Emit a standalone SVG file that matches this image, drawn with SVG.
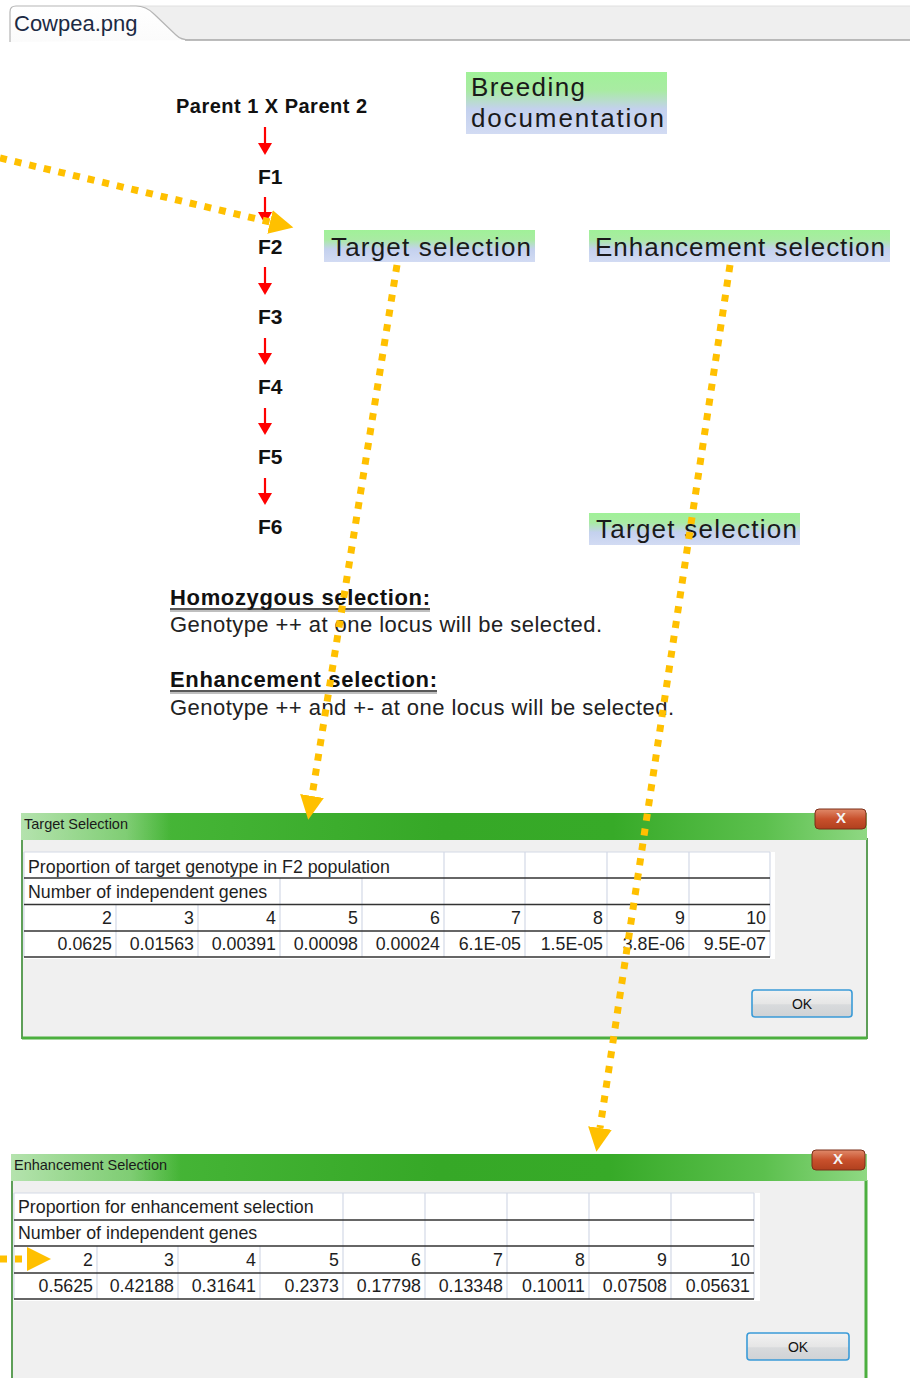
<svg xmlns="http://www.w3.org/2000/svg" width="910" height="1378" viewBox="0 0 910 1378">
<defs>
<style>
.bold{font-family:"Liberation Sans",Arial,sans-serif;font-weight:bold;fill:#111}
.fgen{font-family:"Liberation Sans",Arial,sans-serif;font-weight:bold;font-size:21px;fill:#111}
.lbl{font-family:"Liberation Sans",Arial,sans-serif;font-size:26px;fill:#1a1a1a}
.note{font-family:"Liberation Sans",Arial,sans-serif;font-size:22px;fill:#222}
.title{font-family:"Liberation Sans",Arial,sans-serif;font-size:14.5px;fill:#1a1a1a}
.cell{font-family:"Liberation Sans",Arial,sans-serif;font-size:17.8px;fill:#1e1e1e}
.num{font-family:"Liberation Sans",Arial,sans-serif;font-size:17.8px;fill:#1e1e1e;text-anchor:end}
.ok{font-family:"Liberation Sans",Arial,sans-serif;font-size:14px;fill:#111;text-anchor:middle}
.vl{stroke:#d3d9e6;stroke-width:1.2}
.hl{stroke:#333;stroke-width:1.5}
.red{stroke:#ff0000;stroke-width:2.2;fill:none}
.dot{stroke:#ffc000;stroke-width:7;stroke-dasharray:7 8;fill:none}
.box{fill:url(#lblGrad)}
</style>
<linearGradient id="lblGrad" x1="0" y1="0" x2="0" y2="1">
<stop offset="0" stop-color="#a0f198"/>
<stop offset="0.3" stop-color="#a9eba3"/>
<stop offset="0.6" stop-color="#c4d1ee"/>
<stop offset="1" stop-color="#d2dbf3"/>
</linearGradient>
<linearGradient id="titleGrad" x1="0" y1="0" x2="1" y2="0">
<stop offset="0" stop-color="#62c455"/>
<stop offset="0.12" stop-color="#48b739"/>
<stop offset="0.5" stop-color="#36a827"/>
<stop offset="0.7" stop-color="#37aa28"/>
<stop offset="0.88" stop-color="#5cc04e"/>
<stop offset="1" stop-color="#8fd883"/>
</linearGradient>
<linearGradient id="glowGrad" x1="0" y1="0" x2="1" y2="0">
<stop offset="0" stop-color="#d8f0d4" stop-opacity="0.7"/>
<stop offset="0.7" stop-color="#b8e4b0" stop-opacity="0.5"/>
<stop offset="1" stop-color="#b8e4b0" stop-opacity="0"/>
</linearGradient>
<linearGradient id="closeGrad" x1="0" y1="0" x2="0" y2="1">
<stop offset="0" stop-color="#e08a6a"/>
<stop offset="0.5" stop-color="#c8502c"/>
<stop offset="1" stop-color="#b0401e"/>
</linearGradient>
<linearGradient id="btnGrad" x1="0" y1="0" x2="0" y2="1">
<stop offset="0" stop-color="#f2f2f2"/>
<stop offset="0.5" stop-color="#e6e6e6"/>
<stop offset="0.55" stop-color="#d8dadc"/>
<stop offset="1" stop-color="#cfd2d5"/>
</linearGradient>
<linearGradient id="tabGrad" x1="0" y1="0" x2="0" y2="1">
<stop offset="0" stop-color="#ffffff"/>
<stop offset="1" stop-color="#fbfbfb"/>
</linearGradient>
<marker id="redHead" markerUnits="userSpaceOnUse" markerWidth="14" markerHeight="14" refX="0" refY="7" orient="auto">
<path d="M0,0 L12,7 L0,14 z" fill="#ff0000"/>
</marker>
<marker id="orHead" markerUnits="userSpaceOnUse" markerWidth="26" markerHeight="26" refX="0" refY="12" orient="auto">
<path d="M0,0 L24,12 L0,24 z" fill="#ffc000"/>
</marker>
</defs>

<rect x="0" y="0" width="910" height="1378" fill="#ffffff"/>

<g id="tabbar">
<rect x="130" y="6" width="780" height="34" fill="#efefef"/>
<path d="M130,6 L910,6" stroke="#e0e0e0" stroke-width="1"/>
<path d="M185,40 L910,40" stroke="#a6a6a6" stroke-width="1.5"/>
<path d="M10,42 L10,12 Q10,6 16,6 L136,6 Q146,6 154,14 L176,35 Q181,40 190,40" fill="url(#tabGrad)" stroke="#b5b5b5" stroke-width="1.2"/>
<text x="14" y="31" font-family="'Liberation Sans',Arial,sans-serif" font-size="22" fill="#1c2a44">Cowpea.png</text>
</g>

<g id="parents"><text class="bold" x="176" y="113" font-size="20" textLength="191">Parent 1 X Parent 2</text></g>
<g id="F1"><text class="fgen" x="258" y="184">F1</text></g>
<g id="F2"><text class="fgen" x="258" y="254">F2</text></g>
<g id="F3"><text class="fgen" x="258" y="324">F3</text></g>
<g id="F4"><text class="fgen" x="258" y="394">F4</text></g>
<g id="F5"><text class="fgen" x="258" y="464">F5</text></g>
<g id="F6"><text class="fgen" x="258" y="534">F6</text></g>

<g id="breeding-documentation">
<rect class="box" x="466" y="72" width="201" height="62"/>
<text class="lbl" x="471" y="96" textLength="114">Breeding</text>
<text class="lbl" x="471" y="127" textLength="193">documentation</text>
</g>
<g id="target-selection-top">
<rect class="box" x="324" y="230" width="211" height="32"/>
<text class="lbl" x="331" y="256" textLength="200">Target selection</text>
</g>
<g id="enhancement-selection">
<rect class="box" x="589" y="230" width="301" height="32"/>
<text class="lbl" x="595" y="256" textLength="290">Enhancement selection</text>
</g>
<g id="target-selection-bottom">
<rect class="box" x="589" y="513" width="211" height="32"/>
<text class="lbl" x="596" y="538" textLength="201">Target selection</text>
</g>

<g id="notes">
<text class="bold" x="170" y="605" font-size="22" fill="#222" textLength="260">Homozygous selection:</text>
<line x1="170" y1="609" x2="430" y2="609" stroke="#222" stroke-width="1.6"/>
<line x1="170" y1="611" x2="430" y2="611" stroke="#aaa" stroke-width="1.4"/>
<text class="note" x="170" y="632" textLength="432">Genotype ++ at one locus will be selected.</text>
<text class="bold" x="170" y="687" font-size="22" fill="#222" textLength="267">Enhancement selection:</text>
<line x1="170" y1="691" x2="437" y2="691" stroke="#222" stroke-width="1.6"/>
<line x1="170" y1="693" x2="437" y2="693" stroke="#aaa" stroke-width="1.4"/>
<text class="note" x="170" y="715" textLength="504">Genotype ++ and +- at one locus will be selected.</text>
</g>

<g id="dialog-target-selection">
<rect x="22" y="839" width="845" height="199" fill="#f0f0f0" stroke="#5e9f58" stroke-width="2"/>
<line x1="22" y1="1038" x2="867" y2="1038" stroke="#4caf3f" stroke-width="3"/>
<rect x="21" y="813" width="846" height="27" fill="url(#titleGrad)"/>
<rect x="21" y="813" width="150" height="27" fill="url(#glowGrad)"/>
<rect x="815" y="809" width="51" height="20" rx="4" fill="url(#closeGrad)" stroke="#7a2e18" stroke-width="1"/>
<text x="841" y="823" font-family="'Liberation Sans',Arial,sans-serif" font-size="15" font-weight="bold" fill="#f4f4f4" text-anchor="middle">X</text>
<text class="title" x="24" y="829">Target Selection</text>
<rect x="24" y="852" width="751" height="107" fill="#ffffff"/>
<line class="vl" x1="24" y1="852" x2="770" y2="852"/>
<line class="vl" x1="24" y1="852" x2="24" y2="957"/>
<g>
<line class="vl" x1="444" y1="852" x2="444" y2="878"/><line class="vl" x1="525" y1="852" x2="525" y2="878"/><line class="vl" x1="607" y1="852" x2="607" y2="878"/><line class="vl" x1="689" y1="852" x2="689" y2="878"/><line class="vl" x1="770" y1="852" x2="770" y2="878"/>
<line class="vl" x1="280" y1="878" x2="280" y2="904"/><line class="vl" x1="362" y1="878" x2="362" y2="904"/><line class="vl" x1="444" y1="878" x2="444" y2="904"/><line class="vl" x1="525" y1="878" x2="525" y2="904"/><line class="vl" x1="607" y1="878" x2="607" y2="904"/><line class="vl" x1="689" y1="878" x2="689" y2="904"/><line class="vl" x1="770" y1="878" x2="770" y2="904"/>
<line class="vl" x1="116" y1="904" x2="116" y2="957"/><line class="vl" x1="198" y1="904" x2="198" y2="957"/><line class="vl" x1="280" y1="904" x2="280" y2="957"/><line class="vl" x1="362" y1="904" x2="362" y2="957"/><line class="vl" x1="444" y1="904" x2="444" y2="957"/><line class="vl" x1="525" y1="904" x2="525" y2="957"/><line class="vl" x1="607" y1="904" x2="607" y2="957"/><line class="vl" x1="689" y1="904" x2="689" y2="957"/><line class="vl" x1="770" y1="904" x2="770" y2="957"/>
</g>
<line class="hl" x1="24" y1="878" x2="770" y2="878" stroke="#111"/>
<line class="hl" x1="24" y1="904.5" x2="770" y2="904.5"/>
<line class="hl" x1="24" y1="931" x2="770" y2="931" stroke="#555"/>
<line class="hl" x1="24" y1="957" x2="770" y2="957" stroke="#666"/>
<text class="cell" x="28" y="873">Proportion of target genotype in F2 population</text>
<text class="cell" x="28" y="898">Number of independent genes</text>
<text class="num" x="112" y="924">2</text><text class="num" x="194" y="924">3</text><text class="num" x="276" y="924">4</text><text class="num" x="358" y="924">5</text><text class="num" x="440" y="924">6</text><text class="num" x="521" y="924">7</text><text class="num" x="603" y="924">8</text><text class="num" x="685" y="924">9</text><text class="num" x="766" y="924">10</text>
<text class="num" x="112" y="950">0.0625</text><text class="num" x="194" y="950">0.01563</text><text class="num" x="276" y="950">0.00391</text><text class="num" x="358" y="950">0.00098</text><text class="num" x="440" y="950">0.00024</text><text class="num" x="521" y="950">6.1E-05</text><text class="num" x="603" y="950">1.5E-05</text><text class="num" x="685" y="950">3.8E-06</text><text class="num" x="766" y="950">9.5E-07</text>
<rect x="752" y="990" width="100" height="27" rx="3" fill="url(#btnGrad)" stroke="#3a9bd8" stroke-width="1.6"/>
<text class="ok" x="802" y="1009">OK</text>
</g>

<g id="dialog-enhancement-selection">
<rect x="12" y="1180" width="854" height="204" fill="#f0f0f0" stroke="#5e9f58" stroke-width="2"/>
<line x1="866" y1="1180" x2="866" y2="1378" stroke="#4caf3f" stroke-width="3"/>
<rect x="11" y="1154" width="856" height="27" fill="url(#titleGrad)"/>
<rect x="11" y="1154" width="170" height="27" fill="url(#glowGrad)"/>
<rect x="812" y="1150" width="53" height="20" rx="4" fill="url(#closeGrad)" stroke="#7a2e18" stroke-width="1"/>
<text x="838" y="1164" font-family="'Liberation Sans',Arial,sans-serif" font-size="15" font-weight="bold" fill="#f4f4f4" text-anchor="middle">X</text>
<text class="title" x="14" y="1170">Enhancement Selection</text>
<rect x="14" y="1193" width="746" height="108" fill="#ffffff"/>
<line class="vl" x1="14" y1="1193" x2="754" y2="1193"/>
<line class="vl" x1="14" y1="1193" x2="14" y2="1299"/>
<g>
<line class="vl" x1="343" y1="1193" x2="343" y2="1246"/><line class="vl" x1="425" y1="1193" x2="425" y2="1246"/><line class="vl" x1="507" y1="1193" x2="507" y2="1246"/><line class="vl" x1="589" y1="1193" x2="589" y2="1246"/><line class="vl" x1="671" y1="1193" x2="671" y2="1246"/><line class="vl" x1="754" y1="1193" x2="754" y2="1246"/>
<line class="vl" x1="97" y1="1246" x2="97" y2="1299"/><line class="vl" x1="178" y1="1246" x2="178" y2="1299"/><line class="vl" x1="260" y1="1246" x2="260" y2="1299"/><line class="vl" x1="343" y1="1246" x2="343" y2="1299"/><line class="vl" x1="425" y1="1246" x2="425" y2="1299"/><line class="vl" x1="507" y1="1246" x2="507" y2="1299"/><line class="vl" x1="589" y1="1246" x2="589" y2="1299"/><line class="vl" x1="671" y1="1246" x2="671" y2="1299"/><line class="vl" x1="754" y1="1246" x2="754" y2="1299"/>
</g>
<line class="hl" x1="14" y1="1220" x2="754" y2="1220" stroke="#555"/>
<line class="hl" x1="14" y1="1246" x2="754" y2="1246" stroke="#222"/>
<line class="hl" x1="14" y1="1273" x2="754" y2="1273" stroke="#333"/>
<line class="hl" x1="14" y1="1299" x2="754" y2="1299" stroke="#111"/>
<text class="cell" x="18" y="1213">Proportion for enhancement selection</text>
<text class="cell" x="18" y="1239">Number of independent genes</text>
<text class="num" x="93" y="1266">2</text><text class="num" x="174" y="1266">3</text><text class="num" x="256" y="1266">4</text><text class="num" x="339" y="1266">5</text><text class="num" x="421" y="1266">6</text><text class="num" x="503" y="1266">7</text><text class="num" x="585" y="1266">8</text><text class="num" x="667" y="1266">9</text><text class="num" x="750" y="1266">10</text>
<text class="num" x="93" y="1292">0.5625</text><text class="num" x="174" y="1292">0.42188</text><text class="num" x="256" y="1292">0.31641</text><text class="num" x="339" y="1292">0.2373</text><text class="num" x="421" y="1292">0.17798</text><text class="num" x="503" y="1292">0.13348</text><text class="num" x="585" y="1292">0.10011</text><text class="num" x="667" y="1292">0.07508</text><text class="num" x="750" y="1292">0.05631</text>
<rect x="747" y="1333" width="102" height="27" rx="3" fill="url(#btnGrad)" stroke="#3a9bd8" stroke-width="1.6"/>
<text class="ok" x="798" y="1352">OK</text>
</g>

<g id="connectors">
<line class="red" x1="265" y1="127" x2="265" y2="143" marker-end="url(#redHead)"/>
<line class="red" x1="265" y1="197" x2="265" y2="212" marker-end="url(#redHead)"/>
<line class="red" x1="265" y1="267" x2="265" y2="283" marker-end="url(#redHead)"/>
<line class="red" x1="265" y1="338" x2="265" y2="353" marker-end="url(#redHead)"/>
<line class="red" x1="265" y1="408" x2="265" y2="423" marker-end="url(#redHead)"/>
<line class="red" x1="265" y1="478" x2="265" y2="493" marker-end="url(#redHead)"/>
<line class="dot" x1="0" y1="158" x2="270" y2="222" marker-end="url(#orHead)"/>
<line class="dot" x1="397" y1="265" x2="312" y2="796" marker-end="url(#orHead)"/>
<line class="dot" x1="730" y1="265" x2="600" y2="1128" marker-end="url(#orHead)"/>
<line class="dot" x1="0" y1="1259" x2="27" y2="1259" marker-end="url(#orHead)"/>
</g>
</svg>
